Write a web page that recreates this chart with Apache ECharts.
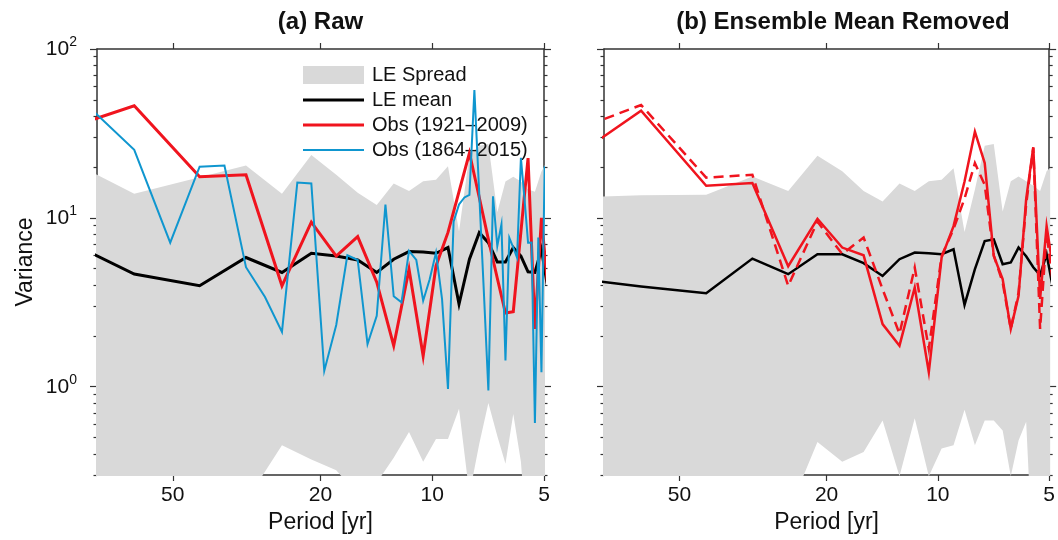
<!DOCTYPE html>
<html>
<head>
<meta charset="utf-8">
<title>Variance spectra</title>
<script src="https://cdn.jsdelivr.net/npm/echarts@6/dist/echarts.min.js"></script>
<style>
html, body { margin: 0; padding: 0; background: #fff; }
#main { width: 1058px; height: 540px; }
</style>
</head>
<body>
<div id="main"></div>
<script>
// periods [yr] of the spectral estimates
var periodLE = [127, 63.5, 42.33, 31.75, 25.4, 21.17, 18.14, 15.88, 14.11, 12.7, 11.55, 10.58, 9.77,
    9.07, 8.47, 7.94, 7.47, 7.06, 6.68, 6.35, 6.05, 5.77, 5.52, 5.29, 5.08, 4.88];
var periodLong = [84.67, 63.5, 50.8, 42.33, 36.29, 31.75, 28.22, 25.4, 23.09, 21.17, 19.54, 18.14, 16.93,
    15.88, 14.94, 14.11, 13.37, 12.7, 12.1, 11.55, 11.04, 10.58, 10.16, 9.77, 9.41, 9.07, 8.76, 8.47,
    8.19, 7.94, 7.7, 7.47, 7.26, 7.06, 6.86, 6.68, 6.51, 6.35, 6.2, 6.05, 5.91, 5.77, 5.64, 5.52, 5.4,
    5.29, 5.18, 5.08, 4.98];

// (a) Raw
var spreadHiA = [30.1, 13.9, 17.4, 20.4, 13.9, 23.6, 18.0, 14.1, 11.9, 16.0, 14.4, 16.5, 16.8, 20.2, 8.3,
    23.6, 26.7, 27.4, 10.8, 16.4, 17.5, 16.4, 14.7, 14.3, 18.8, 22.1];
var spreadLoA = [0.15, 0.17, 0.19, 0.21, 0.45, 0.37, 0.32, 0.23, 0.27, 0.38, 0.54, 0.36, 0.49, 0.49, 0.74,
    0.23, 0.46, 0.8, 0.51, 0.35, 0.69, 0.36, 0.1, 0.17, 0.17, 0.17];
var meanA = [9.8, 4.65, 3.96, 5.82, 4.75, 6.17, 5.94, 5.63, 4.75, 5.69, 6.31, 6.28, 6.17, 6.67, 3.09, 5.69,
    8.17, 7.13, 5.48, 5.48, 6.67, 5.94, 4.79, 4.75, 6.51, 3.79];
var obsA = [27.7, 46.1, 17.5, 18.0, 3.96, 9.44, 5.94, 7.74, 4.16, 1.75, 4.97, 1.52, 5.19, 8.2, 14.3, 24.2,
    13.2, 7.46, 4.39, 2.73, 2.78, 8.3, 22.6, 2.2, 10.0, 3.79];
var obsLongA = [46.1, 25.3, 7.13, 20.1, 20.4, 5.10, 3.40, 2.11, 16.2, 16.0, 1.24, 2.32, 6.0, 5.63, 1.79,
    2.63, 12.0, 3.43, 3.16, 6.37, 5.63, 3.23, 4.33, 6.23, 3.30, 0.97, 9.5, 12.0, 13.2, 13.7, 57.1, 13.7,
    3.63, 0.95, 13.4, 6.81, 9.15, 1.43, 7.63, 6.67, 5.82, 22.7, 12.8, 7.13, 7.15, 0.61, 7.66, 1.22, 20.2];

// (b) Ensemble Mean Removed
var spreadHiB = [13.0, 13.6, 13.7, 17.6, 14.4, 23.3, 18.9, 14.4, 12.5, 16.0, 14.4, 16.5, 16.8, 19.7, 8.24,
    14.7, 26.7, 27.4, 10.9, 16.5, 17.6, 16.5, 15.5, 14.4, 18.9, 20.6];
var spreadLoB = [0.15, 0.155, 0.17, 0.17, 0.18, 0.47, 0.36, 0.41, 0.63, 0.295, 0.65, 0.295, 0.43, 0.45,
    0.73, 0.45, 0.63, 0.63, 0.55, 0.295, 0.48, 0.62, 0.08, 0.17, 0.17, 0.17];
var meanB = [4.7, 3.92, 3.58, 5.74, 4.64, 6.09, 6.09, 5.39, 4.53, 5.69, 6.23, 6.17, 6.09, 6.51, 3.05, 4.97,
    7.29, 7.46, 5.31, 5.44, 6.67, 5.92, 5.10, 4.58, 6.09, 3.79];
var obsB = [15.1, 43.1, 15.5, 16.1, 5.17, 9.88, 6.67, 6.0, 2.35, 1.75, 3.87, 1.22, 5.82, 8.93, 16.4, 32.4,
    21.1, 5.94, 4.34, 2.2, 3.46, 12.9, 26.2, 3.31, 8.96, 5.0];
var obsDashB = [26.2, 46.6, 17.3, 18.0, 3.96, 9.5, 6.1, 7.65, 3.78, 2.06, 5.08, 1.68, 5.94, 8.6, 13.0, 21.1,
    15.7, 6.0, 4.14, 2.2, 3.6, 12.0, 26.0, 2.2, 8.2, 4.0];

// ticks
var xTicks = [50, 20, 10, 5];
var yMajor = [1, 10, 100];
var yMinor = [0.3, 0.4, 0.5, 0.6, 0.7, 0.8, 0.9, 2, 3, 4, 5, 6, 7, 8, 9, 20, 30, 40, 50, 60, 70, 80, 90];

var FONT = 'Liberation Sans, Arial, Helvetica, sans-serif';
var AXIS = '#333';
var GRAY = '#d9d9d9';
var RED = '#f0141e';
var BLUE = '#0f96cf';

// legend line icons (box 61x18, bar in the middle)
var ICON_THICK = 'path://M0,0M61,18M0,7.5L61,7.5L61,10.5L0,10.5Z';
var ICON_THIN = 'path://M0,0M61,18M0,8L61,8L61,10L0,10Z';

function pairs(xs, ys) {
    return xs.map(function (x, i) { return [x, ys[i]]; });
}

//x轴
function xAxis(grid, pos, withLabel) {
    var ax = {
        type: 'log', logBase: 10, gridIndex: grid, position: pos,
        min: 5, max: 80, inverse: true,
        axisLine: { show: true, onZero: false, lineStyle: { color: AXIS, width: 1.5 } },
        axisTick: { show: true, inside: false, length: 6, customValues: xTicks, lineStyle: { color: AXIS, width: 1.2 } },
        axisLabel: { show: withLabel, customValues: xTicks, fontSize: 21, color: '#111', margin: 10, fontFamily: FONT },
        splitLine: { show: false }
    };
    if (withLabel) {
        ax.name = 'Period [yr]';
        ax.nameLocation = 'middle';
        ax.nameGap = 36;
        ax.nameTextStyle = { fontSize: 23, color: '#111', fontFamily: FONT };
    }
    return ax;
}

//y轴: major / minor ticks
function yAxis(grid, pos, minor, withLabel) {
    var ax = {
        type: 'log', logBase: 10, gridIndex: grid, position: pos,
        min: 0.3, max: 100,
        axisLine: { show: !minor, onZero: false, lineStyle: { color: AXIS, width: 1.5 } },
        axisTick: { show: true, inside: false, length: minor ? 3.5 : 7, customValues: minor ? yMinor : yMajor,
            lineStyle: { color: AXIS, width: 1.2 } },
        axisLabel: { show: false },
        splitLine: { show: false }
    };
    if (withLabel) {
        ax.axisLabel = {
            show: true, customValues: yMajor, margin: 20,
            formatter: function (v) {
                return '{b|10}{s|' + Math.round(Math.log10(v)) + '}';
            },
            rich: {
                b: { fontSize: 21, color: '#111', fontFamily: FONT, lineHeight: 28 },
                s: { fontSize: 14, color: '#111', fontFamily: FONT, verticalAlign: 'top', lineHeight: 14 }
            }
        };
        ax.name = 'Variance';
        ax.nameLocation = 'middle';
        ax.nameGap = 60;
        ax.nameTextStyle = { fontSize: 23, color: '#111', fontFamily: FONT };
    }
    return ax;
}

//灰色区间
function spreadSeries(name, xi, yi, hi, lo) {
    return {
        type: 'custom', name: name, xAxisIndex: xi, yAxisIndex: yi, z: 1, silent: true,
        itemStyle: { color: GRAY },
        data: periodLE.map(function (p, i) { return [p, hi[i], lo[i]]; }),
        encode: { x: 0, y: [1, 2] },
        renderItem: function (params, api) {
            if (params.dataIndex !== 0) return;
            var top = [], bot = [];
            for (var i = 0; i < periodLE.length; i++) {
                top.push(api.coord([periodLE[i], hi[i]]));
                bot.unshift(api.coord([periodLE[i], lo[i]]));
            }
            var cs = params.coordSys;
            return {
                type: 'polygon',
                shape: { points: top.concat(bot) },
                style: { fill: GRAY },
                clipPath: { type: 'rect', shape: { x: cs.x - 1, y: cs.y - 1, width: cs.width + 2, height: cs.height + 2 } }
            };
        }
    };
}

function lineSeries(name, xi, yi, xs, ys, color, width, type, z) {
    return {
        type: 'line', name: name, xAxisIndex: xi, yAxisIndex: yi, z: z,
        data: pairs(xs, ys), symbol: 'none', showSymbol: false, clip: true, silent: true,
        lineStyle: { color: color, width: width, type: type || 'solid', join: 'miter' },
        itemStyle: { color: color }
    };
}

var myChart = echarts.init(document.getElementById('main'), null, { renderer: 'canvas' });

var option = {
    animation: false,
    backgroundColor: '#fff',
    textStyle: { fontFamily: FONT },
    title: [
        { text: '(a) Raw', left: 315.5, top: 5, textAlign: 'center',
          textStyle: { fontSize: 24, fontWeight: 'bold', color: '#111', fontFamily: FONT } },
        { text: '(b) Ensemble Mean Removed', left: 838, top: 5, textAlign: 'center',
          textStyle: { fontSize: 24, fontWeight: 'bold', color: '#111', fontFamily: FONT } }
    ],
    legend: {
        orient: 'vertical', left: 303, top: 65, padding: 0,
        itemWidth: 61, itemHeight: 18, itemGap: 5,
        selectedMode: false,
        textStyle: { fontSize: 20, color: '#111', fontFamily: FONT, padding: [0, 0, 0, 3] },
        data: [
            { name: 'LE Spread', icon: 'rect' },
            { name: 'LE mean', icon: ICON_THICK },
            { name: 'Obs (1921\u20132009)', icon: ICON_THICK },
            { name: 'Obs (1864\u20132015)', icon: ICON_THIN }
        ]
    },
    grid: [
        { left: 97, right: 514, top: 49, bottom: 65 },
        { left: 604, right: 7, top: 49, bottom: 65 }
    ],
    xAxis: [
        xAxis(0, 'bottom', true), xAxis(0, 'top', false),
        xAxis(1, 'bottom', true), xAxis(1, 'top', false)
    ],
    yAxis: [
        yAxis(0, 'left', false, true), yAxis(0, 'left', true, false),
        yAxis(0, 'right', false, false), yAxis(0, 'right', true, false),
        yAxis(1, 'left', false, false), yAxis(1, 'left', true, false),
        yAxis(1, 'right', false, false), yAxis(1, 'right', true, false)
    ],
    series: [
        spreadSeries('LE Spread', 0, 0, spreadHiA, spreadLoA),
        lineSeries('LE mean', 0, 0, periodLE, meanA, '#000', 3, 'solid', 3),
        lineSeries('Obs (1921\u20132009)', 0, 0, periodLE, obsA, RED, 3, 'solid', 4),
        lineSeries('Obs (1864\u20132015)', 0, 0, periodLong, obsLongA, BLUE, 2, 'solid', 5),

        spreadSeries('b spread', 2, 4, spreadHiB, spreadLoB),
        lineSeries('b mean', 2, 4, periodLE, meanB, '#000', 2.5, 'solid', 3),
        lineSeries('b obs', 2, 4, periodLE, obsB, RED, 2.5, 'solid', 4),
        lineSeries('b obs raw', 2, 4, periodLE, obsDashB, RED, 2.5, [10, 6], 5)
    ]
};

myChart.setOption(option);
</script>
</body>
</html>
